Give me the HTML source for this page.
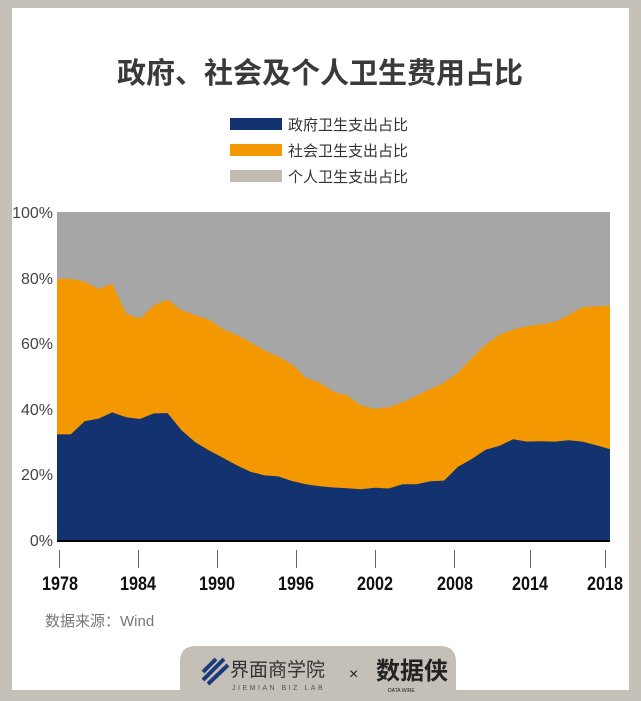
<!DOCTYPE html>
<html><head><meta charset="utf-8"><style>
body{margin:0;width:641px;height:701px;overflow:hidden;background:#c4bfb7;font-family:"Liberation Sans","Noto Sans CJK SC",sans-serif}
#w{position:absolute;left:12px;top:8px;width:617px;height:682px;background:#fff}
</style></head><body>
<div id="w"></div>
<svg width="641" height="701" style="position:absolute;left:0;top:0">
<text x="320" y="83" text-anchor="middle" font-size="29" font-weight="bold" fill="#3a3a3a" font-family="Liberation Sans,Noto Sans CJK SC,sans-serif">政府、社会及个人卫生费用占比</text>
<rect x="230" y="118" width="52" height="12" fill="#133370"/>
<rect x="230" y="144" width="52" height="12" fill="#f39800"/>
<rect x="230" y="170" width="52" height="12" fill="#c2bcb3"/>
<g font-size="15" fill="#333" font-family="Liberation Sans,Noto Sans CJK SC,sans-serif">
<text x="288" y="130">政府卫生支出占比</text>
<text x="288" y="156">社会卫生支出占比</text>
<text x="288" y="182">个人卫生支出占比</text>
</g>
<rect x="57" y="212" width="553" height="328" fill="#a6a6a6"/>
<path id="or" fill="#f39800"/>
<path id="gv" fill="#133370"/>
<line x1="57" y1="541" x2="610" y2="541" stroke="#000" stroke-width="2"/>
<g font-size="16" fill="#444" text-anchor="end" font-family="Liberation Sans,sans-serif">
<text x="53" y="218">100%</text><text x="53" y="284">80%</text><text x="53" y="349">60%</text>
<text x="53" y="415">40%</text><text x="53" y="480">20%</text><text x="53" y="546">0%</text>
</g>
<g stroke="#666" stroke-width="1">
<line x1="59.5" y1="550" x2="59.5" y2="568"/><line x1="138.5" y1="550" x2="138.5" y2="568"/>
<line x1="217.5" y1="550" x2="217.5" y2="568"/><line x1="296.5" y1="550" x2="296.5" y2="568"/>
<line x1="375.5" y1="550" x2="375.5" y2="568"/><line x1="454.5" y1="550" x2="454.5" y2="568"/>
<line x1="530.5" y1="550" x2="530.5" y2="568"/><line x1="605.5" y1="550" x2="605.5" y2="568"/>
</g>
<g font-size="19" font-weight="bold" fill="#111" font-family="Liberation Sans,sans-serif">
<text x="42" y="590" textLength="36" lengthAdjust="spacingAndGlyphs">1978</text>
<text x="120" y="590" textLength="36" lengthAdjust="spacingAndGlyphs">1984</text>
<text x="199" y="590" textLength="36" lengthAdjust="spacingAndGlyphs">1990</text>
<text x="278" y="590" textLength="36" lengthAdjust="spacingAndGlyphs">1996</text>
<text x="357" y="590" textLength="36" lengthAdjust="spacingAndGlyphs">2002</text>
<text x="437" y="590" textLength="36" lengthAdjust="spacingAndGlyphs">2008</text>
<text x="512" y="590" textLength="36" lengthAdjust="spacingAndGlyphs">2014</text>
<text x="587" y="590" textLength="36" lengthAdjust="spacingAndGlyphs">2018</text>
</g>
<text x="45" y="626" font-size="15" fill="#777" font-family="Liberation Sans,Noto Sans CJK SC,sans-serif">数据来源：Wind</text>
<path d="M180 701 V662 Q180 646 196 646 H440 Q456 646 456 662 V701 Z" fill="#c4bfb7"/>
<g stroke="#1b3a7a" stroke-width="4"><line x1="203" y1="672" x2="216" y2="659"/><line x1="203" y1="680" x2="224" y2="659"/><line x1="208" y1="684" x2="228" y2="665"/></g>
<text x="230" y="676" font-size="19" fill="#333" font-family="Noto Sans CJK SC,sans-serif">界面商学院</text>
<text x="232" y="690" font-size="7" fill="#555" letter-spacing="2.5" font-family="Liberation Sans,sans-serif">JIEMIAN BIZ LAB</text>
<text x="349" y="679" font-size="16" fill="#222" font-family="Liberation Sans,sans-serif">×</text>
<text x="376" y="679" font-size="24" font-weight="bold" fill="#222" font-family="Noto Sans CJK SC,sans-serif">数据侠</text>
<text x="388" y="692" font-size="5" fill="#222" font-family="Liberation Sans,sans-serif">DATA WIRE</text>
</svg>
<script>
var g=[32.2,32.2,36.2,37.0,38.9,37.4,36.9,38.6,38.7,33.5,29.8,27.3,25.1,22.8,20.8,19.7,19.4,18.0,17.0,16.4,16.0,15.8,15.5,15.9,15.7,17.0,17.0,17.9,18.1,22.3,24.7,27.5,28.7,30.7,30.0,30.1,30.0,30.4,30.0,28.9,27.7];
var p=[20.4,20.4,21.2,23.5,21.9,31.0,32.5,28.5,26.7,30.0,31.5,32.8,35.7,37.5,39.8,42.2,44.1,46.4,50.6,52.0,54.8,56.0,59.0,60.0,59.5,58.0,56.0,54.0,52.0,49.0,44.5,40.5,37.5,35.8,34.8,34.3,33.5,31.5,29.0,28.8,28.6];
function X(i){return 57+i*553/40}function Y(v){return 540-3.28*v}
var a="M57 540",b="M57 540";
for(var i=0;i<41;i++){a+=" L"+X(i).toFixed(1)+" "+Y(100-p[i]).toFixed(1);b+=" L"+X(i).toFixed(1)+" "+Y(g[i]).toFixed(1);}
a+=" L610 540Z";b+=" L610 540Z";
document.getElementById("or").setAttribute("d",a);document.getElementById("gv").setAttribute("d",b);
</script>
</body></html>
